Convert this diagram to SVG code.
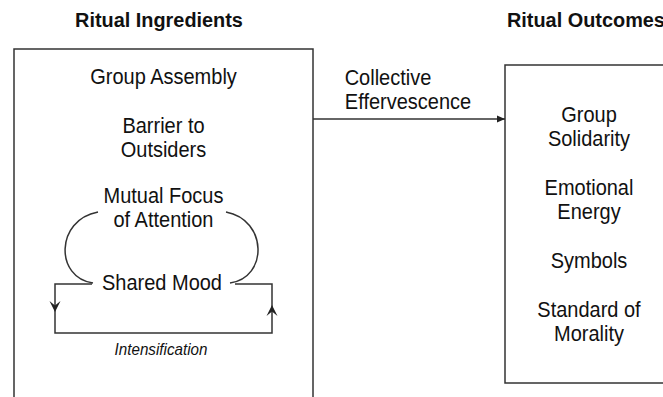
<svg xmlns="http://www.w3.org/2000/svg" width="663" height="397" viewBox="0 0 663 397">
<style>
  text { transform-box: fill-box; transform-origin: center; }
  .t { font-family: "Liberation Sans", Arial, sans-serif; font-size: 21.5px; fill: #111; text-anchor: middle; transform: scaleX(0.93); }
  .h { font-family: "Liberation Sans", Arial, sans-serif; font-size: 20.5px; font-weight: bold; fill: #111; transform: scaleX(0.97); }
  .i { font-family: "Liberation Sans", Arial, sans-serif; font-size: 16px; font-style: italic; fill: #111; text-anchor: middle; transform: scaleX(0.95); }
  .box { fill: #fff; stroke: #333; stroke-width: 1.5; }
  .ln { fill: none; stroke: #333; stroke-width: 1.5; }
  .ah { fill: #222; stroke: none; }
</style>
<defs>
  <marker id="arr" markerWidth="10" markerHeight="8" refX="8" refY="4" orient="auto" markerUnits="userSpaceOnUse">
    <path d="M0,0.5 L8,4 L0,7.5 Z" class="ah"/>
  </marker>
</defs>
<rect width="663" height="397" fill="#fff"/>
<text class="h" x="159" y="27" text-anchor="middle">Ritual Ingredients</text>
<text class="h" x="507" y="27" style="transform-origin: left;">Ritual Outcomes</text>

<g id="ingredients">
  <rect class="box" x="14" y="49" width="299" height="380"/>
  <text class="t" x="163.5" y="84">Group Assembly</text>
  <text class="t" x="163.5" y="133">Barrier to</text>
  <text class="t" x="163.5" y="157">Outsiders</text>
  <text class="t" x="163.5" y="203">Mutual Focus</text>
  <text class="t" x="163.5" y="227">of Attention</text>
  <text class="t" x="162" y="290">Shared Mood</text>
  <text class="i" x="161" y="355">Intensification</text>
</g>

<g id="outcomes">
  <rect class="box" x="505" y="65" width="200" height="318"/>
  <text class="t" x="589" y="122">Group</text>
  <text class="t" x="589" y="146">Solidarity</text>
  <text class="t" x="589" y="195">Emotional</text>
  <text class="t" x="589" y="219">Energy</text>
  <text class="t" x="589" y="268">Symbols</text>
  <text class="t" x="589" y="317">Standard of</text>
  <text class="t" x="589" y="341">Morality</text>
</g>

<g id="connectors">
  <line class="ln" x1="313" y1="119" x2="505" y2="119" marker-end="url(#arr)"/>
  <text class="t" x="388" y="85">Collective</text>
  <text class="t" x="408" y="109">Effervescence</text>
  <path class="ln" d="M98,212 C55,220 55,278 93,283"/>
  <path class="ln" d="M226,212 C268,220 268,278 230,283"/>
  <path class="ln" d="M92,284 L55,284 L55,333 L272,333 L272,284 L235,284"/>
  <path class="ah" d="M49.5,301 L55,312 L60.5,301 L55,305.5 Z"/>
  <path class="ah" d="M266.5,316 L272,305 L277.5,316 L272,311.5 Z"/>
</g>
</svg>
